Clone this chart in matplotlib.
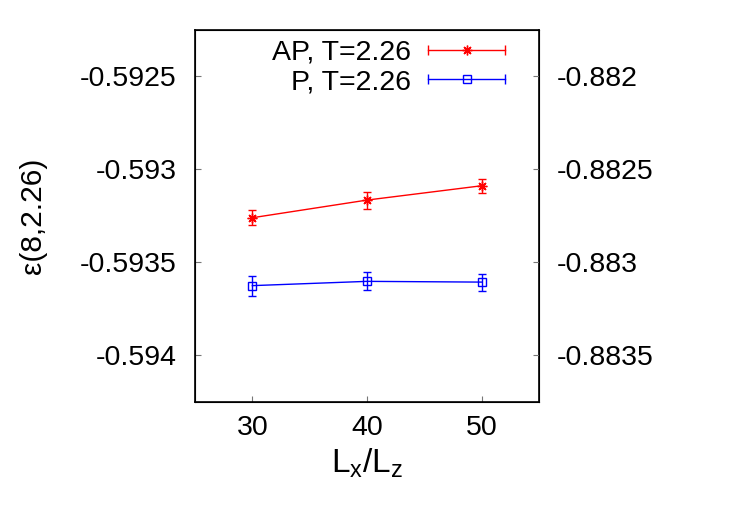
import matplotlib
matplotlib.use("Agg")
import matplotlib.pyplot as plt
from matplotlib.lines import Line2D
from matplotlib.legend_handler import HandlerLine2D, HandlerTuple
from matplotlib.ticker import FormatStrFormatter

plt.rcParams['font.family'] = ['Liberation Sans', 'DejaVu Sans']
plt.rcParams['mathtext.default'] = 'regular'

# data
L = [30, 40, 50]
ap_eps = [-0.593262, -0.593167, -0.593090]
ap_err = [0.000039, 0.000046, 0.000038]
p_eps = [-0.593627, -0.593604, -0.593608]
p_err = [0.000054, 0.000049, 0.000046]

y_ticks = [-0.5925, -0.593, -0.5935, -0.594]
y2_ticks = [-0.882, -0.8825, -0.883, -0.8835]
y2_shift = -0.2895

fig = plt.figure(figsize=(7.5, 5.25), dpi=100)
ax = fig.add_axes([0.26, 0.2352, 0.4587, 0.7086])

ax.errorbar(L, ap_eps, yerr=ap_err, color='red', lw=1, marker=(8, 2, 0),
            ms=7, mew=1, capsize=3, elinewidth=1)
ax.errorbar(L, p_eps, yerr=p_err, color='blue', lw=1, marker='s', mfc='none',
            ms=6, mew=1, capsize=3, elinewidth=1)

ax.set_xlim(25, 55)
ax.set_ylim(-0.59425, -0.59225)
ax.set_xticks(L)
ax.set_yticks(y_ticks)
ax.yaxis.set_major_formatter(FormatStrFormatter('%g'))
ax.tick_params(direction='in', length=4.5, width=0.8, color='#777777',
               labelsize=20.5, pad=13)
ax.tick_params(axis='x', pad=10)
for s in ax.spines.values():
    s.set_linewidth(1.2)

ax2 = ax.twinx()
ax2.set_ylim(-0.59425 + y2_shift, -0.59225 + y2_shift)
ax2.set_yticks(y2_ticks)
ax2.yaxis.set_major_formatter(FormatStrFormatter('%g'))
ax2.tick_params(direction='in', length=4.5, width=0.8, color='#777777',
                labelsize=20.5, pad=13)

ax.set_xlabel(r'$L_x/L_z$', fontsize=24, labelpad=4)
ax.set_ylabel('ε(8,2.26)', fontsize=21.5)
ax.yaxis.set_label_coords(-0.43, 0.5)

# gnuplot-like legend keys: line with end caps and a point in the middle
def key(color, marker, ms, mfc):
    bar = Line2D([], [], color=color, lw=1, marker='|', ms=7, mew=1)
    pt = Line2D([], [], color=color, ls='none', marker=marker, ms=ms, mew=1, mfc=mfc)
    return bar, pt

ap_bar, ap_pt = key('red', (8, 2, 0), 7, 'red')
p_bar, p_pt = key('blue', 's', 6, 'none')
hmap = {tuple: HandlerTuple(ndivide=1),
        ap_bar: HandlerLine2D(numpoints=2, marker_pad=0),
        p_bar: HandlerLine2D(numpoints=2, marker_pad=0),
        ap_pt: HandlerLine2D(numpoints=1),
        p_pt: HandlerLine2D(numpoints=1)}
ax.legend([(ap_bar, ap_pt), (p_bar, p_pt)], ['AP, T=2.26', 'P, T=2.26'],
          handler_map=hmap, loc='upper right', bbox_to_anchor=(0.901, 0.972),
          frameon=False, markerfirst=False, fontsize=20.5, borderpad=0,
          borderaxespad=0, handlelength=2.7, handletextpad=0.6, labelspacing=0.12)

fig.savefig('out.png', dpi=100)
